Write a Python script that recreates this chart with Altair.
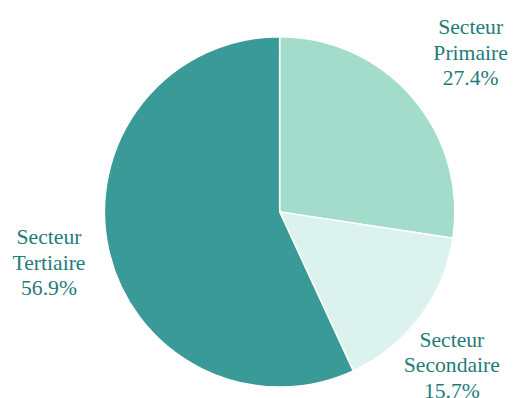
import altair as alt
import pandas as pd

sectors = ["Secteur Primaire", "Secteur Secondaire", "Secteur Tertiaire"]
labels = ["Secteur\nPrimaire\n27.4%", "Secteur\nSecondaire\n15.7%", "Secteur\nTertiaire\n56.9%"]
shares = [27.4, 15.7, 56.9]
colors = ["#a3dccb", "#dcf2ee", "#3a9a97"]

df = pd.DataFrame({"sector": sectors, "label": labels, "share": shares, "order": [0, 1, 2]})

CX, CY = 276, 204

pie = alt.Chart(df).mark_arc(outerRadius=178, stroke="white", strokeWidth=1.5).encode(
    theta=alt.Theta("share:Q", stack=True),
    order=alt.Order("order:Q"),
    color=alt.Color("sector:N", scale=alt.Scale(domain=sectors, range=colors), legend=None),
    x=alt.value(CX),
    y=alt.value(CY),
)

text_base = alt.Chart(df).transform_stack(
    stack="share", as_=["s0", "s1"], groupby=[], sort=[alt.SortField("order")]
).transform_calculate(mid="(datum.s0 + datum.s1) / 2")

# label nudges (style only)
nudges = {
    "Secteur Primaire": (12, -31),
    "Secteur Secondaire": (-17, -14),
    "Secteur Tertiaire": (0, -26),
}

layers = [pie]
for s in sectors:
    ddx, ddy = nudges[s]
    layers.append(
        text_base.transform_filter(alt.datum.sector == s).mark_text(
            radius=240, dx=ddx, dy=ddy, fontSize=22, lineHeight=26, lineBreak="\n",
            font="Liberation Serif", color="#1f7c79",
            align="center", baseline="middle",
        ).encode(
            theta=alt.Theta("mid:Q", scale=alt.Scale(domain=[0, 100])),
            text="label:N",
            x=alt.value(CX),
            y=alt.value(CY),
        )
    )

chart = alt.layer(*layers).resolve_scale(theta="independent").properties(
    width=510, height=390, padding=0, autosize="none"
).configure_view(stroke=None)

chart.save("out.html", embed_options={"renderer": "svg", "actions": False})
